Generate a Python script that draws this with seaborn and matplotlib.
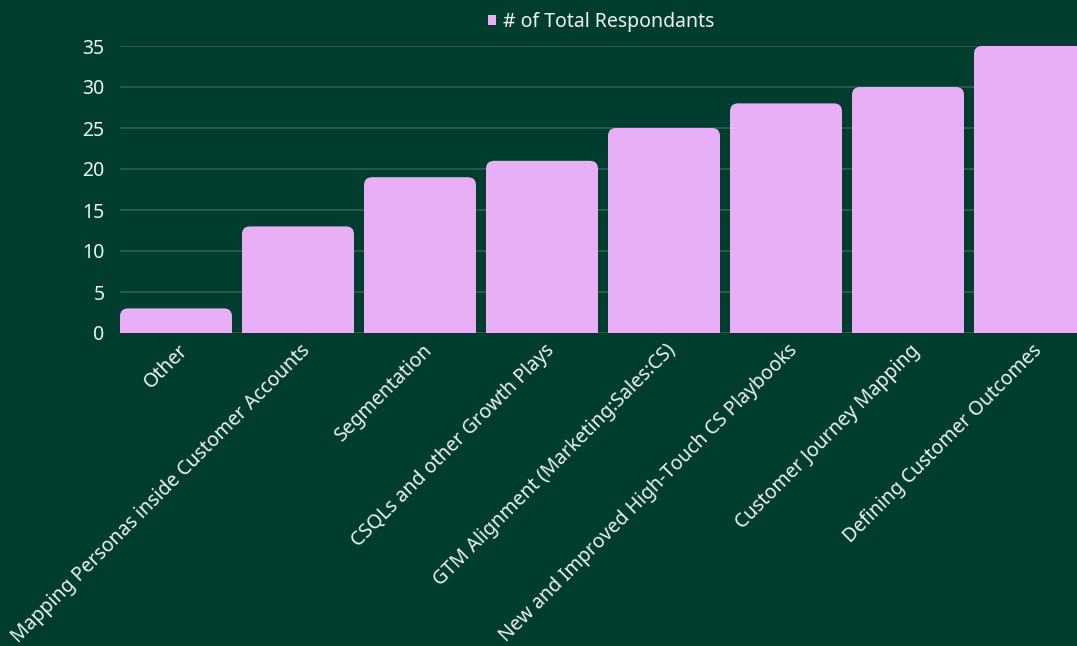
import matplotlib
matplotlib.use("Agg")
import matplotlib.pyplot as plt
import matplotlib.transforms as mtrans
import seaborn as sns
import pandas as pd
from matplotlib.patches import FancyBboxPatch, Patch

categories = ["Other", "Mapping Personas inside Customer Accounts", "Segmentation",
              "CSQLs and other Growth Plays", "GTM Alignment (Marketing:Sales:CS)",
              "New and Improved High-Touch CS Playbooks", "Customer Journey Mapping",
              "Defining Customer Outcomes"]
values = [3, 13, 19, 21, 25, 28, 30, 35]
series_name = "# of Total Respondants"
yticks = [0, 5, 10, 15, 20, 25, 30, 35]

BG = "#013d2e"
BAR = "#e8aef6"
GRID = "#2f5e50"
TXT = "#eef3f0"

sns.set_theme(style="white")
plt.rcParams["font.family"] = ["Noto Sans", "DejaVu Sans"]

W, H = 1077, 646
fig = plt.figure(figsize=(W / 100, H / 100), dpi=100, facecolor=BG)
ax = fig.add_axes([120 / W, (H - 333) / H, (1077 - 120) / W, (333 - 46) / H])
ax.set_facecolor(BG)

df = pd.DataFrame({"cat": categories, "val": values})
width = 112 / 122
sns.barplot(data=df, x="cat", y="val", color=BAR, width=width, saturation=1, ax=ax, zorder=3)

xr = 8 / 122
yscale = 287 / 35
asp = (1 / yscale) / (1 / 122)
for p in list(ax.patches):
    x, w, h = p.get_x(), p.get_width(), p.get_height()
    p.set_visible(False)
    fb = FancyBboxPatch((x, -2), w, h + 2,
                        boxstyle=f"round,pad=0,rounding_size={xr}",
                        mutation_aspect=asp, facecolor=BAR, edgecolor="none", zorder=3)
    ax.add_patch(fb)

ax.set_xlim(-width / 2, 7 + 47 / 122)
ax.set_ylim(0, 35)
ax.set_yticks(yticks)
for t in yticks:
    ax.axhline(t, color=GRID, lw=1.2, zorder=1)

for s in ax.spines.values():
    s.set_visible(False)
ax.set_xlabel("")
ax.set_ylabel("")
ax.tick_params(axis="y", colors=TXT, labelsize=14, length=0, pad=11)
ax.tick_params(axis="x", colors=TXT, labelsize=14, length=0, pad=20)
ax.set_xticks(range(len(categories)))
ax.set_xticklabels(categories, rotation=45, ha="right", va="center", rotation_mode="anchor")
off = mtrans.ScaledTranslation(9 / 100, 13 / 100, fig.dpi_scale_trans)
for lab in ax.get_xticklabels():
    lab.set_transform(lab.get_transform() + off)
for lab in ax.get_yticklabels():
    lab.set_color(TXT)

fig.legend(handles=[Patch(facecolor=BAR, edgecolor="none", label=series_name)],
           loc="center", bbox_to_anchor=(601 / W, 1 - 22 / H), frameon=False,
           handlelength=0.4, handleheight=0.4, handletextpad=0.35,
           fontsize=14, labelcolor=TXT)

fig.savefig("out.png", dpi=100, facecolor=BG)
